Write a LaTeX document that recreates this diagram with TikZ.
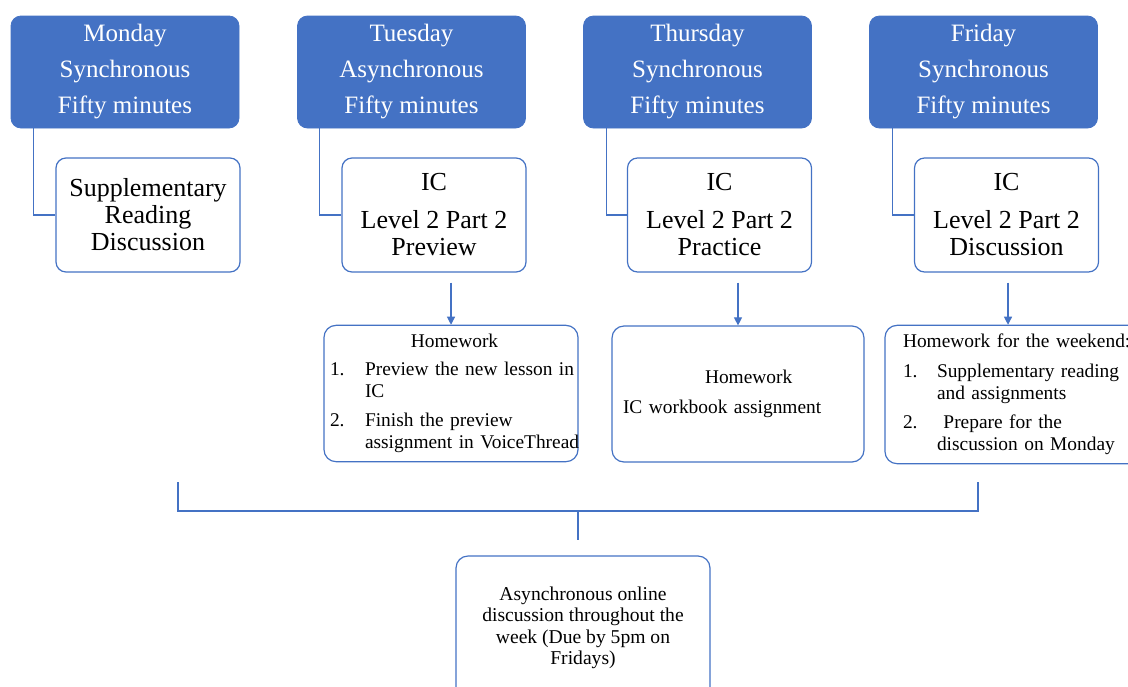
\documentclass[tikz,border=0pt]{standalone}
\usepackage{fontspec}
\setmainfont{Liberation Serif}
\usepackage{array}
\usetikzlibrary{arrows.meta}
\definecolor{wordblue}{HTML}{4472C4}
\tikzstyle{dayhead}=[rectangle,rounded corners=5pt,minimum width=114pt,
minimum height=56pt,align=center,fill=wordblue,draw=wordblue,text=white,
font=\fontsize{12.5}{18}\selectfont]
\tikzstyle{session}=[rectangle,rounded corners=5pt,minimum width=92pt,
minimum height=57pt,align=center,draw=wordblue,line width=0.6pt,fill=white,
font=\fontsize{13}{13.5}\selectfont]
\tikzstyle{homework}=[rectangle,rounded corners=6pt,minimum height=68pt,
align=left,draw=wordblue,line width=0.6pt,fill=white,
font=\fontsize{9.7}{11}\selectfont]
\tikzstyle{online}=[rectangle,rounded corners=6pt,minimum width=127pt,
minimum height=72pt,align=center,draw=wordblue,line width=0.6pt,
font=\fontsize{9.8}{10.75}\selectfont]
\tikzstyle{link}=[draw=wordblue,line width=0.55pt]
\tikzstyle{arrow}=[link,-{Triangle[length=4pt,width=4pt]}]

\begin{document}
\begin{tikzpicture}[x=0.5pt,y=-0.5pt]
    \useasboundingbox (0,0) rectangle (1128,686);
        % day headers
        \node (mon) [dayhead] at (125,72) {Monday\\Synchronous\\Fifty minutes};
        \node (tue) [dayhead] at (411.5,72) {Tuesday\\Asynchronous\\Fifty minutes};
        \node (thu) [dayhead] at (697.5,72) {Thursday\\Synchronous\\Fifty minutes};
        \node (fri) [dayhead] at (983.5,72) {Friday\\Synchronous\\Fifty minutes};

        % class content
        \node (monsub) [session] at (148,215) {Supplementary\\Reading\\Discussion};
        \node (tuesub) [session] at (434,215) {IC\\[5.5pt]Level 2 Part 2\\Preview};
        \node (thusub) [session] at (719.5,215) {IC\\[5.5pt]Level 2 Part 2\\Practice};
        \node (frisub) [session] at (1006.5,215) {IC\\[5.5pt]Level 2 Part 2\\Discussion};

        % homework
        \node (tuehw) [homework,text width=121pt,inner xsep=3pt] at (451,393.5)
            {\begin{tabular}{@{}p{17.5pt}@{}l@{}}
             \multicolumn{2}{c}{Homework}\\[3pt]
             1. & Preview the new lesson in\\
                & IC\\[3.5pt]
             2. & Finish the preview\\
                & assignment in VoiceThread
             \end{tabular}};
        \node (thuhw) [homework,text width=115pt,inner xsep=5.5pt] at (738,394)
            {\hspace*{41pt}Homework\\[4pt]IC workbook assignment};
        \node (frihw) [homework,text width=121pt,inner xsep=9pt] at (1024,394.5)
            {\begin{tabular}{@{}p{17pt}@{}l@{}}
             \multicolumn{2}{@{}l}{Homework for the weekend:}\\[4pt]
             1. & Supplementary reading\\
                & and assignments\\[3.5pt]
             2. & \ Prepare for the\\
                & discussion on Monday
             \end{tabular}};

        % weekly online discussion
        \node (weekly) [online] at (583,628)
            {Asynchronous online\\discussion throughout the\\week (Due by 5pm on\\Fridays)};

        \coordinate (leftend) at (178,482);
        \coordinate (leftcorner) at (178,511);
        \coordinate (rightend) at (978,482);
        \coordinate (rightcorner) at (978,511);
        \coordinate (middle) at (578,511);
        \coordinate (middleend) at (578,540);

        \draw [link] ([xshift=11.5pt]mon.south west) |- (monsub.west);
        \draw [link] ([xshift=11pt]tue.south west) |- (tuesub.west);
        \draw [link] ([xshift=11.5pt]thu.south west) |- (thusub.west);
        \draw [link] ([xshift=11.5pt]fri.south west) |- (frisub.west);

        \draw [arrow] (tuehw.north |- tuesub.south) ++(0,10) -- (tuehw.north);
        \draw [arrow] (thuhw.north |- thusub.south) ++(0,10) -- (thuhw.north);
        \draw [arrow] ([xshift=-8pt]frihw.north |- frisub.south) ++(0,10) -- ([xshift=-8pt]frihw.north);

        \draw [link] (leftend) -- (leftcorner) -- (rightcorner) -- (rightend);
        \draw [link] (middle) -- (middleend);

    \end{tikzpicture}
\end{document}
